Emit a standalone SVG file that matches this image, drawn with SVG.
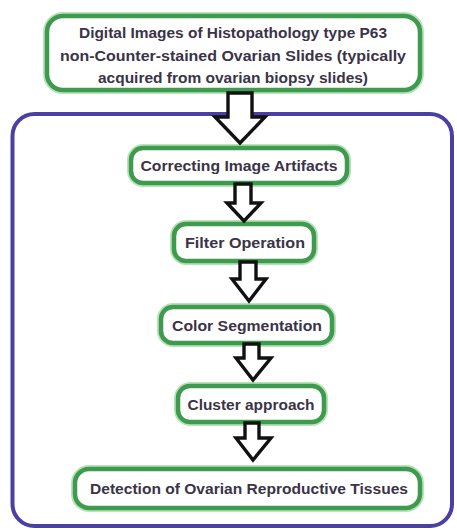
<svg xmlns="http://www.w3.org/2000/svg" width="457" height="530" viewBox="0 0 457 530">
<style>
.box{fill:#ffffff;stroke:#3f9a4f;stroke-width:4.5}
.halo{fill:none;stroke:#b6e3b8;stroke-width:8}
.frame{fill:#ffffff;stroke:#4a40a4;stroke-width:4}
.arrow{fill:#ffffff;stroke:#111111;stroke-width:3.4;stroke-linejoin:miter}
text{font-family:"Liberation Sans",Arial,sans-serif;font-weight:bold;font-size:14px;fill:#3b3347;text-anchor:middle}
</style>
<rect width="457" height="530" fill="#ffffff"/>
<g id="frame">
<rect class="frame" x="12.5" y="114" width="439.5" height="412" rx="22"/>
</g>
<g id="n1">
<rect class="halo" x="47" y="16" width="373" height="74" rx="16"/>
<rect class="box" x="47" y="16" width="373" height="74" rx="16"/>
<text x="233" y="38" textLength="308" lengthAdjust="spacingAndGlyphs">Digital Images of Histopathology type P63</text>
<text x="233" y="61" textLength="346" lengthAdjust="spacingAndGlyphs">non-Counter-stained Ovarian Slides (typically</text>
<text x="233" y="83" textLength="270" lengthAdjust="spacingAndGlyphs">acquired from ovarian biopsy slides)</text>
</g>
<g id="n2">
<rect class="halo" x="131" y="148" width="216" height="35" rx="12"/>
<rect class="box" x="131" y="148" width="216" height="35" rx="12"/>
<text x="239" y="170.5" textLength="197" lengthAdjust="spacingAndGlyphs">Correcting Image Artifacts</text>
</g>
<g id="n3">
<rect class="halo" x="174" y="224" width="140" height="37" rx="12"/>
<rect class="box" x="174" y="224" width="140" height="37" rx="12"/>
<text x="245" y="247.5" textLength="120" lengthAdjust="spacingAndGlyphs">Filter Operation</text>
</g>
<g id="n4">
<rect class="halo" x="161" y="307" width="171" height="36" rx="12"/>
<rect class="box" x="161" y="307" width="171" height="36" rx="12"/>
<text x="247" y="330.5" textLength="150" lengthAdjust="spacingAndGlyphs">Color Segmentation</text>
</g>
<g id="n5">
<rect class="halo" x="178" y="386" width="146" height="36" rx="12"/>
<rect class="box" x="178" y="386" width="146" height="36" rx="12"/>
<text x="251" y="409.5" textLength="127" lengthAdjust="spacingAndGlyphs">Cluster approach</text>
</g>
<g id="n6">
<rect class="halo" x="75" y="469" width="345" height="39" rx="14"/>
<rect class="box" x="75" y="469" width="345" height="39" rx="14"/>
<text x="249" y="493.5" textLength="318" lengthAdjust="spacingAndGlyphs">Detection of Ovarian Reproductive Tissues</text>
</g>
<g id="connectors">
<path class="arrow" d="M228,93 H252 V117 H265 L240,143 L215,117 H228 Z"/>
<path class="arrow" d="M235,184 H251 V203 H261 L244,221 L227,203 H235 Z"/>
<path class="arrow" d="M240,262 H256 V279 H266 L249,301 L232,279 H240 Z"/>
<path class="arrow" d="M244,344 H259 V358 H271 L253,380 L236,358 H244 Z"/>
<path class="arrow" d="M245,423 H259 V438 H271 L253,460 L236,438 H245 Z"/>
</g>
</svg>
